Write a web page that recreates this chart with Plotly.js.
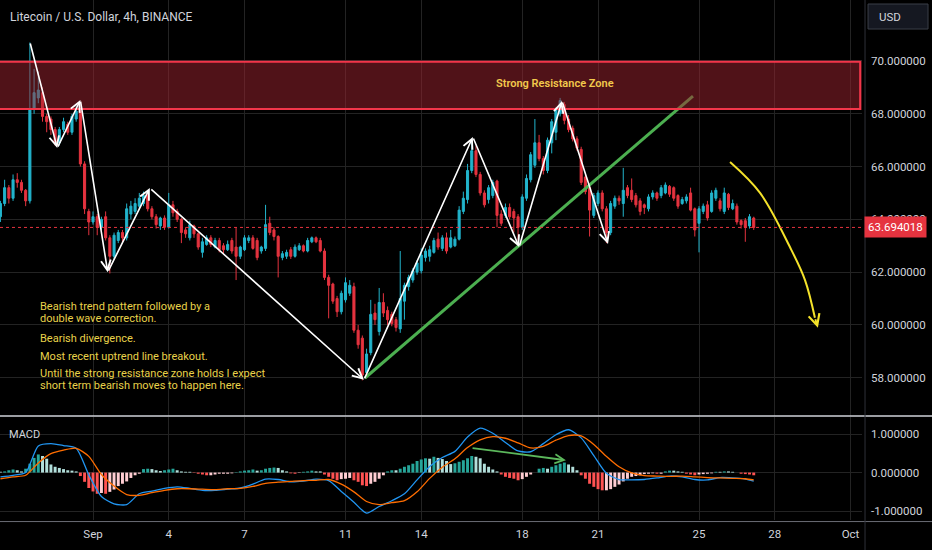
<!DOCTYPE html>
<html><head><meta charset="utf-8">
<script src="https://cdn.plot.ly/plotly-3.0.1.min.js"></script>
<style>html,body{margin:0;padding:0;background:#000;}#chart{width:932px;height:550px;}</style>
</head><body><div id="chart"></div>
<script>
// ---- data (4h candles, LTC/USD, starting 2023-08-28 08:00) ----
const firstCandle = '2023-08-28T08:00:00Z';
const opens = [64.1,64.6,65.2,64.8,65.5,65.4,65.1,64.7,68.2,68.6,
68.8,67.9,67.8,67.4,66.9,67.4,67.6,67.3,67.8,68.1,
66.1,64.3,63.9,64.1,63.7,64.1,63.3,62.6,63.2,63.5,
63.3,64.2,64.3,64.5,64.6,64.9,64.4,64.1,63.75,64.05,
63.7,64.55,64.3,64.0,63.6,63.3,63.75,63.45,62.75,63.05,
63.3,62.95,63.2,63.0,62.85,63.2,62.95,62.6,62.85,63.2,
63.3,63.2,62.8,62.9,63.85,63.6,63.35,62.55,62.6,62.85,
62.6,62.85,63.0,62.8,63.15,63.3,63.2,62.8,61.8,61.55,
61.0,60.5,60.95,61.2,61.45,59.8,59.5,58.2,58.95,60.45,
59.75,60.85,60.55,60.4,60.2,59.85,60.9,61.45,61.7,62.0,
62.05,62.55,62.6,62.75,63.25,62.9,63.3,62.95,63.0,63.25,
64.3,64.75,65.85,66.6,65.7,65.0,64.75,64.9,65.45,64.2,
64.15,64.45,64.3,64.1,63.7,64.8,65.5,66.05,66.9,66.3,
65.85,66.9,67.3,68.0,68.35,67.8,67.45,67.05,66.65,65.6,
65.2,64.15,64.6,65.0,64.4,63.5,64.5,64.8,64.6,65.2,
65.1,64.9,64.7,64.55,64.4,64.85,65.0,64.9,65.0,65.25,
65.2,64.9,64.6,64.7,65.0,64.4,63.85,64.3,64.55,64.3,
64.8,64.7,64.3,64.95,64.4,64.5,63.95,63.95,63.75,64.05];
const highs = [64.7,65.5,65.3,65.7,65.75,65.5,65.15,70.7,69.7,69.6,
69.0,68.0,67.9,67.5,67.5,67.85,67.7,68.0,68.35,68.2,
66.2,64.4,64.3,64.2,64.1,64.3,63.4,63.5,63.6,63.6,
64.6,64.7,64.8,65.0,65.05,65.0,64.5,64.2,64.1,64.15,
65.0,64.7,64.4,64.05,63.7,63.95,63.8,63.5,63.3,63.4,
63.4,63.3,63.3,63.1,63.2,63.3,63.7,63.0,63.4,63.4,
63.4,63.3,63.0,64.55,64.1,63.7,63.4,62.8,62.85,62.95,
63.05,63.1,63.05,63.3,63.35,63.35,63.3,62.9,61.9,61.6,
61.1,61.3,61.8,61.7,61.6,60.0,59.6,59.1,60.95,60.8,
61.4,61.2,60.7,60.5,60.3,62.8,61.6,61.9,62.15,62.45,
62.9,62.9,63.0,63.3,63.5,63.4,63.5,63.6,63.35,64.5,
65.05,66.1,67.0,66.8,65.8,65.1,65.3,65.5,65.5,64.35,
64.6,64.6,64.4,64.2,64.95,65.7,66.55,67.8,67.2,66.4,
67.1,67.8,68.25,68.6,68.45,67.95,67.55,67.15,66.75,65.7,
65.3,65.0,65.1,65.1,64.5,64.7,64.9,64.9,65.95,65.3,
65.55,65.0,64.8,64.6,64.95,65.1,65.05,65.3,65.4,65.3,
65.25,64.95,64.85,64.95,65.2,64.45,64.5,64.6,64.7,65.1,
65.2,64.8,65.2,65.0,64.75,64.6,64.0,64.05,64.2,64.1];
const lows = [63.9,64.5,64.6,64.7,65.2,65.0,64.5,64.6,68.0,68.4,
67.7,67.3,67.2,66.8,66.8,67.3,67.2,67.2,67.7,66.0,
64.2,63.4,63.8,63.4,63.6,63.2,61.95,62.5,63.1,63.1,
63.2,64.0,64.2,64.4,64.5,64.3,64.0,63.65,63.6,63.6,
63.65,64.1,63.9,63.1,63.3,63.2,63.3,62.85,62.55,63.0,
62.95,62.9,62.75,62.7,62.8,62.7,61.7,62.5,62.8,63.1,
62.85,62.45,62.7,62.8,63.4,63.2,61.8,62.45,62.5,62.5,
62.55,62.8,62.75,62.75,63.1,63.1,62.75,61.7,60.25,60.8,
60.3,60.4,60.85,61.1,59.7,59.1,57.9,58.05,58.85,60.0,
59.6,60.3,60.0,59.95,59.75,59.7,60.2,61.3,61.6,61.9,
61.95,62.4,62.4,62.7,62.85,62.8,62.7,62.9,62.95,63.2,
64.2,64.6,65.75,65.6,64.9,64.45,64.6,64.8,63.7,63.75,
64.05,64.0,63.5,63.2,63.6,64.7,65.4,65.95,66.2,65.7,
65.75,66.5,67.0,67.9,67.6,67.3,66.95,66.6,65.3,64.95,
63.35,64.05,64.5,64.3,63.1,63.4,64.4,64.55,64.1,64.8,
64.65,64.45,64.15,64.2,64.3,64.75,64.7,64.8,64.95,64.85,
64.7,64.4,64.55,64.6,64.3,63.35,62.75,64.2,63.95,64.25,
64.7,64.3,64.2,64.35,64.35,63.8,63.65,63.15,63.65,63.6];
const closes = [64.6,65.2,64.8,65.5,65.4,65.1,64.7,68.2,68.8,68.9,
67.9,67.7,67.4,66.9,67.4,67.7,67.3,67.9,68.1,66.1,
64.4,63.9,64.1,63.7,64.0,63.3,62.6,63.4,63.5,63.3,
64.4,64.5,64.6,64.8,64.9,64.4,64.1,63.8,64.05,63.7,
64.55,64.25,64.0,63.5,63.45,63.8,63.45,62.95,63.15,63.3,
63.05,63.2,62.85,62.85,63.05,62.8,62.6,62.95,63.3,63.3,
62.9,62.55,62.95,63.8,63.5,63.35,62.6,62.7,62.75,62.6,
62.95,63.0,62.8,63.2,63.3,63.15,62.8,61.8,61.5,60.9,
60.5,61.2,61.6,61.5,59.8,59.25,58.1,58.9,60.4,60.2,
60.85,60.45,60.2,60.05,59.9,61.0,61.5,61.8,62.05,62.35,
62.65,62.8,62.85,63.2,62.95,63.3,62.8,63.3,63.25,64.35,
64.8,65.85,66.6,65.7,65.0,64.55,65.2,65.4,64.15,63.85,
64.45,64.1,64.05,63.7,64.85,65.55,66.45,66.9,66.3,65.85,
67.0,67.7,68.15,68.5,67.75,67.4,67.05,66.7,65.4,65.05,
64.35,64.9,65.0,64.4,63.5,64.6,64.8,64.7,65.1,64.9,
64.75,64.55,64.3,64.45,64.85,65.0,64.8,65.2,65.3,64.95,
64.8,64.5,64.75,64.85,64.35,63.6,64.4,64.5,64.05,65.0,
65.1,64.4,65.0,64.45,64.6,63.9,63.8,63.7,64.1,63.694018];

// MACD histogram, one value per candle
const hist = [0.02,0.03,0.06,0.08,0.06,0.03,0.10,0.23,0.38,0.47,
0.43,0.36,0.21,0.15,0.12,0.09,0.06,0.05,0.03,-0.09,
-0.24,-0.40,-0.49,-0.55,-0.53,-0.55,-0.50,-0.44,-0.35,-0.29,
-0.23,-0.14,-0.07,-0.03,0.09,0.10,0.09,0.06,0.04,0.06,
0.08,0.10,0.06,0.03,0.02,0.02,-0.01,-0.03,-0.05,-0.07,
-0.07,-0.05,-0.03,-0.03,-0.03,-0.02,0.01,0.03,0.05,0.06,
0.08,0.05,0.06,0.10,0.12,0.13,0.12,0.06,0.03,-0.02,
-0.03,-0.01,0.02,0.03,0.05,0.03,0.03,-0.05,-0.11,-0.16,
-0.20,-0.17,-0.16,-0.14,-0.20,-0.24,-0.33,-0.35,-0.29,-0.24,
-0.16,-0.07,0.03,0.06,0.06,0.10,0.15,0.19,0.23,0.30,
0.34,0.37,0.36,0.41,0.38,0.35,0.30,0.22,0.24,0.28,
0.32,0.37,0.43,0.41,0.37,0.23,0.15,0.08,0.03,-0.05,
-0.11,-0.14,-0.16,-0.20,-0.17,-0.11,-0.05,0.00,0.10,0.12,
0.10,0.15,0.19,0.23,0.26,0.21,0.15,0.06,-0.07,-0.16,
-0.29,-0.37,-0.43,-0.46,-0.46,-0.43,-0.37,-0.31,-0.23,-0.16,
-0.11,-0.09,-0.07,-0.04,-0.03,-0.02,-0.03,-0.03,0.03,0.05,
0.05,0.03,0.02,-0.03,-0.05,-0.07,-0.05,-0.04,-0.03,-0.02,
0.02,0.02,0.03,0.03,0.02,0.00,-0.03,-0.04,-0.05,-0.07];

// MACD and signal lines, sampled at these candle numbers
const lineCandles = [0,3,6,9,12,15,18,21,24,27,30,33,36,39,42,45,48,51,54,57,
60,63,66,69,72,75,78,81,84,87,90,93,96,99,102,105,108,111,114,117,
120,123,126,129,132,135,138,141,144,147,150,153,156,159,162,165,168,171,174,177,179];
const macdLine = [-0.11,-0.07,0.00,0.69,0.75,0.70,0.63,-0.06,-0.62,-0.81,-0.83,-0.55,-0.48,-0.41,-0.37,-0.41,-0.46,-0.46,-0.43,-0.40,
-0.30,-0.17,-0.18,-0.24,-0.22,-0.17,-0.21,-0.49,-0.77,-1.05,-0.88,-0.73,-0.55,-0.19,0.16,0.39,0.55,0.92,1.15,1.02,
0.78,0.56,0.54,0.75,0.98,1.11,0.90,0.44,-0.02,-0.18,-0.19,-0.18,-0.14,-0.09,-0.11,-0.18,-0.19,-0.13,-0.14,-0.17,-0.22];
const signalLine = [-0.16,-0.11,-0.07,0.25,0.49,0.58,0.63,0.42,-0.05,-0.35,-0.57,-0.59,-0.52,-0.46,-0.42,-0.42,-0.43,-0.44,-0.42,-0.41,
-0.36,-0.28,-0.25,-0.23,-0.21,-0.20,-0.18,-0.30,-0.50,-0.75,-0.83,-0.78,-0.73,-0.50,-0.15,0.14,0.36,0.65,0.85,0.93,
0.89,0.77,0.64,0.68,0.84,0.96,0.95,0.73,0.42,0.15,-0.01,-0.08,-0.09,-0.10,-0.09,-0.11,-0.13,-0.14,-0.15,-0.16,-0.19];

// axis ticks
const dateTicks = ['2023-09-01','2023-09-04','2023-09-07','2023-09-11','2023-09-14','2023-09-18','2023-09-21','2023-09-25','2023-09-28','2023-10-01'];
const dateTickText = ['Sep','4','7','11','14','18','21','25','28','Oct'];
const priceTicks = [58,60,62,64,66,68,70];
const priceTickText = ['58.000000','60.000000','62.000000','64.000000','66.000000','68.000000','70.000000'];
const macdTicks = [-1,0,1];
const macdTickText = ['-1.000000','0.000000','1.000000'];

// drawings
const zigTimes = ['2023-08-29 12:00','2023-08-30 14:00','2023-08-31 12:00','2023-09-01 14:00','2023-09-03 06:00','2023-09-11 17:30','2023-09-16 01:00','2023-09-17 21:00','2023-09-19 13:45','2023-09-21 09:30'];
const zigPrices = [70.72,66.70,68.52,62.00,65.19,57.92,67.12,62.95,68.48,63.07];
const trendTimes = ['2023-09-11 18:30','2023-09-24 18:15'];
const trendPrices = [57.99,68.67];
const zonePrices = [68.18,69.97];
const curveTimes = ['2023-09-26 05:30','2023-09-27 10:00','2023-09-28 14:25','2023-09-29 04:45','2023-09-29 14:10','2023-09-29 17:00'];
const curvePrices = [66.17,65.0,62.95,61.7,60.27,59.89];
const divTimes = ['2023-09-15 23:20','2023-09-19 17:30'];
const divMacd = [0.64,0.32];
const lastPrice = 63.694018;
const notes = ['Bearish trend pattern followed by a','double wave correction.','Bearish divergence.','Most recent uptrend line breakout.','Until the strong resistance zone holds I expect','short term bearish moves to happen here.'];

// ---- build ----
const t0 = Date.parse(firstCandle);
const fmt = ms => new Date(ms).toISOString().slice(0,16).replace('T',' ');
const times = closes.map((_, i) => fmt(t0 + i*4*3600*1000));
const lineTimes = lineCandles.map(i => times[i]);
const histColors = hist.map((v,i) => {
  const p = i > 0 ? hist[i-1] : v;
  if (v >= 0) return v > p ? '#26a69a' : '#b2dfdb';
  return v < p ? '#ff5252' : '#ffcdd2';
});

const UP = '#22b4cc', DOWN = '#e5333f', GRID = '#232323';
const FONT = 'Roboto, "Open Sans", sans-serif';

const traces = [
  {type:'candlestick', x:times, open:opens, high:highs, low:lows, close:closes,
   xaxis:'x', yaxis:'y', whiskerwidth:0, hoverinfo:'skip',
   increasing:{line:{color:UP,width:1}, fillcolor:UP},
   decreasing:{line:{color:DOWN,width:1}, fillcolor:DOWN}},
  {type:'scatter', mode:'lines', x:curveTimes.slice(0,-1), y:curvePrices.slice(0,-1), xaxis:'x', yaxis:'y',
   line:{color:'#f4e22a', width:2, shape:'spline', smoothing:1}, hoverinfo:'skip'},
  {type:'bar', x:times, y:hist, xaxis:'x', yaxis:'y2', marker:{color:histColors, line:{width:0}}, hoverinfo:'skip'},
  {type:'scatter', mode:'lines', x:lineTimes, y:macdLine, xaxis:'x', yaxis:'y2',
   line:{color:'#2196f3', width:1.3, shape:'spline', smoothing:0.7}, hoverinfo:'skip'},
  {type:'scatter', mode:'lines', x:lineTimes, y:signalLine, xaxis:'x', yaxis:'y2',
   line:{color:'#ff6d00', width:1.3, shape:'spline', smoothing:0.7}, hoverinfo:'skip'}
];

const annotations = [];
for (let k = 0; k < zigTimes.length - 1; k++) {
  annotations.push({x:zigTimes[k+1], y:zigPrices[k+1], ax:zigTimes[k], ay:zigPrices[k],
    xref:'x', yref:'y', axref:'x', ayref:'y', text:'', showarrow:true,
    arrowhead:5, arrowsize:1.2, arrowwidth:1.6, arrowcolor:'#ffffff', standoff:0});
}
const nC = curveTimes.length;
annotations.push({x:curveTimes[nC-1], y:curvePrices[nC-1], ax:curveTimes[nC-2], ay:curvePrices[nC-2],
  xref:'x', yref:'y', axref:'x', ayref:'y', text:'', showarrow:true,
  arrowhead:5, arrowsize:1.1, arrowwidth:2, arrowcolor:'#f4e22a', standoff:0});
annotations.push({x:divTimes[1], y:divMacd[1], ax:divTimes[0], ay:divMacd[0],
  xref:'x', yref:'y2', axref:'x', ayref:'y2', text:'', showarrow:true,
  arrowhead:5, arrowsize:1.0, arrowwidth:1.8, arrowcolor:'#5cb85c', standoff:0});

annotations.push({xref:'paper', yref:'paper', x:0.009, y:0.967, xanchor:'left', yanchor:'middle', showarrow:false,
  text:'Litecoin / U.S. Dollar, 4h, BINANCE', font:{family:FONT, size:12, color:'#d1d4dc'}});
annotations.push({xref:'paper', yref:'paper', x:1.0174, y:0.968, xanchor:'left', yanchor:'middle', showarrow:false,
  text:'USD', font:{family:FONT, size:11.5, color:'#d1d4dc'}});
annotations.push({xref:'paper', yref:'paper', x:0.008, y:0.165, xanchor:'left', yanchor:'middle', showarrow:false,
  text:'MACD', font:{family:FONT, size:11, color:'#d1d4dc'}});
annotations.push({xref:'x', yref:'y', x:'2023-09-19 07:00', y:69.13, xanchor:'center', yanchor:'middle', showarrow:false,
  text:'Strong Resistance Zone', font:{family:FONT, size:11, color:'#f2c94c', weight:600}});
const noteY = [0.410, 0.388, 0.350, 0.315, 0.281, 0.258];
notes.forEach((t, k) => annotations.push({xref:'paper', yref:'paper', x:0.044, y:noteY[k], xanchor:'left', yanchor:'middle',
  showarrow:false, text:t, font:{family:FONT, size:11, color:'#e8d24a'}}));
annotations.push({xref:'paper', yref:'y', x:1.002, y:lastPrice, xanchor:'left', yanchor:'middle', showarrow:false,
  text:lastPrice.toFixed(6), font:{family:FONT, size:11.5, color:'#ffffff'}, bgcolor:DOWN, borderpad:3});

const shapes = [
  {type:'line', xref:'x', yref:'y', x0:trendTimes[0], y0:trendPrices[0], x1:trendTimes[1], y1:trendPrices[1],
   line:{color:'#4caf50', width:3}},
  {type:'rect', xref:'paper', yref:'y', x0:-0.01, x1:0.998, y0:zonePrices[0], y1:zonePrices[1],
   fillcolor:'rgba(160,36,48,0.5)', line:{color:'#f2364a', width:2.2}},
  {type:'line', xref:'paper', yref:'y', x0:0, x1:1, y0:lastPrice, y1:lastPrice,
   line:{color:DOWN, width:1, dash:'dot'}},
  {type:'line', xref:'paper', yref:'paper', x0:0, x1:1.09, y0:0.2, y1:0.2, line:{color:'#cfd2d8', width:1.5}},
  {type:'line', xref:'paper', yref:'paper', x0:0, x1:1.09, y0:-0.003, y1:-0.003, line:{color:'#6a6d75', width:1}},
  {type:'line', xref:'paper', yref:'paper', x0:1.0035, x1:1.0035, y0:-0.06, y1:1.0, line:{color:'#2f3138', width:1}},
  {type:'rect', xref:'paper', yref:'paper', x0:1.0070, x1:1.0766, y0:0.9442, y1:0.9923,
   fillcolor:'#151821', line:{color:'#3a3e48', width:1}}
];

const layout = {
  width:932, height:550, margin:{l:0, r:70, t:0, b:30},
  paper_bgcolor:'#000000', plot_bgcolor:'#000000', showlegend:false,
  font:{family:FONT, color:'#d1d4dc', size:11},
  bargap:0.3,
  xaxis:{type:'date', anchor:'y2', range:['2023-08-28 07:36','2023-10-01 10:55'],
    tickvals:dateTicks, ticktext:dateTickText, ticks:'', ticklabelstandoff:5, showgrid:true, gridcolor:GRID, gridwidth:1,
    zeroline:false, showline:false, tickfont:{family:FONT, size:11.5, color:'#d1d4dc'},
    rangeslider:{visible:false}, fixedrange:true},
  yaxis:{domain:[0.2, 1], range:[56.55, 72.31], side:'right', anchor:'x',
    tickvals:priceTicks, ticktext:priceTickText, ticks:'', ticklabelstandoff:8,
    showgrid:true, gridcolor:GRID, zeroline:false, showline:false,
    tickfont:{family:FONT, size:11.5, color:'#d1d4dc'}, fixedrange:true},
  yaxis2:{domain:[0, 0.198], range:[-1.23, 1.44], side:'right', anchor:'x',
    tickvals:macdTicks, ticktext:macdTickText, ticks:'', ticklabelstandoff:8,
    showgrid:true, gridcolor:GRID, zeroline:false, showline:false,
    tickfont:{family:FONT, size:11.5, color:'#d1d4dc'}, fixedrange:true},
  shapes:shapes, annotations:annotations
};

Plotly.newPlot('chart', traces, layout, {displayModeBar:false, staticPlot:true});
</script></body></html>
